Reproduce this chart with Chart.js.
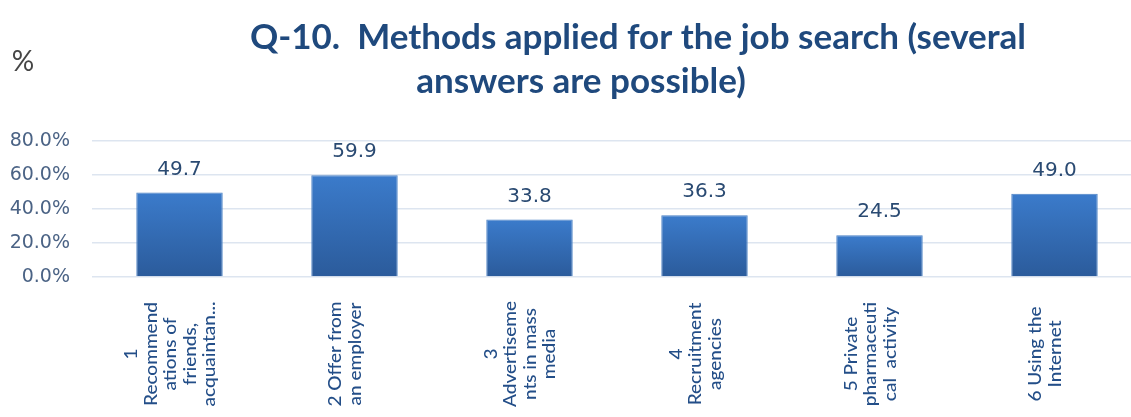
<!DOCTYPE html>
<html>
<head>
<meta charset="utf-8">
<script src="https://cdn.jsdelivr.net/npm/chart.js@4.4.1/dist/chart.umd.min.js"></script>
<style>
  html, body { margin: 0; padding: 0; background: #fff; overflow: hidden; }
  canvas { display: block; }
</style>
</head>
<body>
<canvas id="methods-chart" width="1142" height="417"></canvas>
<script>
// Job search methods, share of respondents (%)
const categories = [
    ['1', 'Recommend', 'ations of', 'friends,', 'acquaintan...'],
    ['2 Offer from', 'an employer'],
    ['3', 'Advertiseme', 'nts in mass', 'media'],
    ['4', 'Recruitment', 'agencies'],
    ['5 Private', 'pharmaceuti', 'cal  activity'],
    ['6 Using the', 'Internet']
];
const shares = [49.7, 59.9, 33.8, 36.3, 24.5, 49.0];
const yTickValues = [0, 20, 40, 60, 80];
const titleLines = ['Q-10.  Methods applied for the job search (several', 'answers are possible)'];
const unitLabel = '%';

// Vertical blue gradient, one per bar
function barGradient(context) {
    const chart = context.chart;
    const yScale = chart.scales.y;
    if (!chart.chartArea || !yScale || context.parsed === undefined) return '#3470b8';
    const top = yScale.getPixelForValue(context.parsed.y);
    const bottom = yScale.getPixelForValue(0);
    const g = chart.ctx.createLinearGradient(0, top, 0, bottom);
    g.addColorStop(0, '#3b7bcb');
    g.addColorStop(1, '#2b5b9b');
    return g;
}

// Title, unit sign and the rotated category labels
const decorations = {
    id: 'decorations',
    afterDraw(chart) {
        const ctx = chart.ctx;
        ctx.save();
        ctx.fillStyle = '#1f497d';
        ctx.font = 'bold 35px Lato';
        ctx.textAlign = 'center';
        ctx.textBaseline = 'middle';
        ctx.fillText(titleLines[0], 638, 38);
        ctx.fillText(titleLines[1], 581, 82);

        ctx.fillStyle = '#454545';
        ctx.font = '28px Lato';
        ctx.fillText(unitLabel, 23, 62);

        const xScale = chart.scales.x;
        ctx.fillStyle = '#234e88';
        ctx.font = '500 19px Lato';
        const lineGap = 19.5;
        categories.forEach((lines, i) => {
            const cx = xScale.getPixelForValue(i) - 9;
            lines.forEach((line, j) => {
                const lx = cx + (j - (lines.length - 1) / 2) * lineGap;
                ctx.save();
                ctx.translate(lx, 354);
                ctx.rotate(-Math.PI / 2);
                ctx.scale(1, 0.92);
                ctx.fillText(line, 0, 0);
                ctx.restore();
            });
        });
        ctx.restore();
    }
};

// Value labels above the bars
const valueLabels = {
    id: 'valueLabels',
    afterDatasetsDraw(chart) {
        const ctx = chart.ctx;
        const meta = chart.getDatasetMeta(0);
        ctx.save();
        ctx.fillStyle = '#2a4a72';
        ctx.font = '20px "DejaVu Sans"';
        ctx.textAlign = 'center';
        ctx.textBaseline = 'alphabetic';
        meta.data.forEach((bar, i) => {
            ctx.fillText(shares[i].toFixed(1), bar.x, bar.y - 18);
        });
        ctx.restore();
    }
};

const ctx = document.getElementById('methods-chart').getContext('2d');
window.methodsChart = new Chart(ctx, {
    type: 'bar',
    data: {
        labels: categories,
        datasets: [{
            data: shares,
            backgroundColor: barGradient,
            borderColor: '#4a80c4',
            borderWidth: 1,
            barPercentage: 0.494,
            categoryPercentage: 1
        }]
    },
    options: {
        responsive: false,
        animation: false,
        devicePixelRatio: 1,
        layout: { padding: { top: 141, bottom: 140, left: 0, right: 0 } },
        plugins: {
            legend: { display: false },
            tooltip: { enabled: false },
            title: { display: false }
        },
        scales: {
            x: { display: false },
            y: {
                min: 0,
                max: 80,
                afterFit: scale => { scale.width = 92; },
                afterBuildTicks: scale => { scale.ticks = yTickValues.map(v => ({ value: v })); },
                border: { display: false },
                grid: { color: '#dde5f0', lineWidth: 1.5, drawTicks: false },
                ticks: {
                    padding: 22,
                    color: '#4b6385',
                    font: { family: 'DejaVu Sans', size: 19 },
                    callback: v => v.toFixed(1) + '%'
                }
            }
        }
    },
    plugins: [decorations, valueLabels]
});
</script>
</body>
</html>
